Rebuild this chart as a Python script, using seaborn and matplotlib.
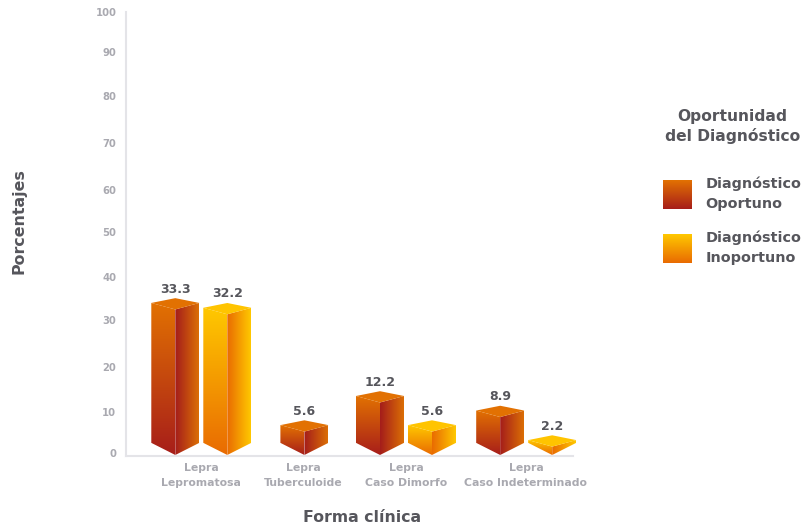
import numpy as np
import pandas as pd
import matplotlib
matplotlib.use("Agg")
import matplotlib.pyplot as plt
import seaborn as sns
from matplotlib.image import BboxImage
from matplotlib.legend_handler import HandlerBase
from matplotlib.patches import Patch, Polygon
from matplotlib.transforms import Bbox, TransformedBbox

# ---- data ----
categories = ["Lepra\nLepromatosa", "Lepra\nTuberculoide", "Lepra\nCaso Dimorfo", "Lepra\nCaso Indeterminado"]
series_names = ["Diagnóstico\nOportuno", "Diagnóstico\nInoportuno"]
oportuno = [33.3, 5.6, 12.2, 8.9]
inoportuno = [32.2, None, 5.6, 2.2]
y_tick_labels = ["0", "10", "20", "30", "40", "50", "60", "70", "80", "90", "100"]

# ---- layout (pixel-like x axis) ----
W, H = 803, 528
oportuno_x = [175.3, 304.4, 380.0, 500.2]
inoportuno_x = [227.3, None, 432.0, 552.2]
category_x = [201, 303, 406, 526]
y_tick_pos = [0, 9.4, 19.6, 30.2, 39.9, 50.1, 59.6, 70.3, 81.0, 90.9, 100]
PX = 4.41  # pixels per percentage unit
GRAD = {
    series_names[0]: dict(top="#E27102", face_top="#E27102", face_bot="#A71E1A", side_in="#A41D1B", side_out="#DB6E05"),
    series_names[1]: dict(top="#FFC400", face_top="#FFC800", face_bot="#E96B02", side_in="#E96B02", side_out="#FFC800"),
}

rows = []
for name, xs, vs in zip(series_names, [oportuno_x, inoportuno_x], [oportuno, inoportuno]):
    for x, v in zip(xs, vs):
        if v is not None:
            rows.append({"pos": x, "valor": v, "serie": name})
df = pd.DataFrame(rows)

sns.set_theme(style="white")
plt.rcParams["font.family"] = ["DejaVu Sans"]
fig = plt.figure(figsize=(W / 100, H / 100), dpi=100)
x0, x1 = 126, 580
y_top, y_bot = 12, 456
ax = fig.add_axes([x0 / W, 1 - y_bot / H, (x1 - x0) / W, (y_bot - y_top) / H])

sns.barplot(data=df, x="pos", y="valor", hue="serie", hue_order=series_names, dodge=False,
            native_scale=True, width=48 / 52, legend=False, ax=ax)


def rgb(c):
    return np.array(matplotlib.colors.to_rgb(c))


def ramp(c0, c1, vertical):
    t = np.linspace(0, 1, 64)
    arr = np.outer(1 - t, rgb(c0)) + np.outer(t, rgb(c1))
    return arr[:, None, :] if vertical else arr[None, :, :]


def face(poly, img):
    xs, ys = zip(*poly)
    im = ax.imshow(img, extent=(min(xs), max(xs), min(ys), max(ys)), origin="upper",
                   aspect="auto", interpolation="bilinear", zorder=3)
    clip = Polygon(poly, closed=True, transform=ax.transData)
    im.set_clip_path(clip)
    im.set_clip_box(fig.bbox)


for container, name in zip(ax.containers, series_names):
    g = GRAD[name]
    for bar in container:
        bar.set_alpha(0)
        w = bar.get_width()
        xl, xr = bar.get_x(), bar.get_x() + w
        xc = xl + w / 2
        v = bar.get_height()
        # 3D prism offsets, given in pixels and turned into axis units
        back, corner, front = v + 8 / PX, v + 3.2 / PX, v - 3.3 / PX
        base_corner, base_front = 2.3, -0.45
        face([(xl, corner), (xc, front), (xc, base_front), (xl, base_corner)],
             ramp(g["face_top"], g["face_bot"], True))
        face([(xc, front), (xr, corner), (xr, base_corner), (xc, base_front)],
             ramp(g["side_in"], g["side_out"], False))
        ax.add_patch(Polygon([(xl, corner), (xc, back), (xr, corner), (xc, front)], closed=True,
                             facecolor=g["top"], edgecolor="none", zorder=4, clip_on=False))
        ax.text(xc, v + 17 / PX, f"{v:.1f}", ha="center", va="center", fontsize=9,
                fontweight="bold", color="#56565C", zorder=5)

ax.set_xlim(x0, x1)
ax.set_ylim(-(y_bot - 453) / PX, 100)
ax.set_yticks(y_tick_pos, y_tick_labels)
ax.set_xticks(category_x, categories)
ax.tick_params(axis="y", length=0, pad=7, labelsize=7.2, labelcolor="#A9A9B0")
ax.tick_params(axis="x", length=0, pad=5, labelsize=7.8, labelcolor="#A9A9B0")
for lab in ax.get_xticklabels() + ax.get_yticklabels():
    lab.set_fontweight("bold")
for lab in ax.get_xticklabels():
    lab.set_linespacing(1.6)
sns.despine(ax=ax)
for side in ("left", "bottom"):
    ax.spines[side].set_color("#E4E4E8")
    ax.spines[side].set_linewidth(1.5)
ax.spines["bottom"].set_bounds(x0, 573)

ax.set_xlabel("Forma clínica", fontsize=11.3, fontweight="bold", color="#56565C")
ax.set_ylabel("Porcentajes", fontsize=11.4, fontweight="bold", color="#56565C")
ax.xaxis.set_label_coords((362 - x0) / (x1 - x0), -(518 - y_bot) / (y_bot - y_top), transform=ax.transAxes)
ax.xaxis.label.set_va("center")
ax.yaxis.set_label_coords((19 - x0) / (x1 - x0), 1 - (221 - y_top) / (y_bot - y_top), transform=ax.transAxes)
ax.yaxis.label.set_va("center")


class GradientHandler(HandlerBase):
    def __init__(self, c0, c1):
        super().__init__()
        self.c0, self.c1 = c0, c1

    def create_artists(self, legend, orig, xd, yd, width, height, fontsize, trans):
        bbox = TransformedBbox(Bbox([[-xd, -yd], [-xd + width, -yd + height]]), trans)
        img = BboxImage(bbox, interpolation="bilinear", origin="upper")
        img.set_data(ramp(self.c0, self.c1, True))
        return [img]


handles = [Patch(label=n) for n in series_names]
leg = ax.legend(handles=handles, title="Oportunidad\ndel Diagnóstico", frameon=False,
                loc="upper left", bbox_to_anchor=(652 / W, 1 - 98 / H), bbox_transform=fig.transFigure,
                prop={"size": 10.35, "weight": "bold"}, labelcolor="#56565C",
                handlelength=2.0, handleheight=2.71, handletextpad=0.9, labelspacing=1.35, borderpad=0.3,
                handler_map={handles[0]: GradientHandler(GRAD[series_names[0]]["face_top"], GRAD[series_names[0]]["face_bot"]),
                             handles[1]: GradientHandler(GRAD[series_names[1]]["face_top"], GRAD[series_names[1]]["face_bot"])})
leg.get_title().set_fontsize(11.2)
leg.get_title().set_fontweight("bold")
leg.get_title().set_color("#56565C")
leg.get_title().set_multialignment("center")
leg.get_title().set_linespacing(1.3)
for t in leg.get_texts():
    t.set_linespacing(1.55)
leg._legend_box.sep = 23

fig.savefig("out.png", dpi=100, facecolor="white")
